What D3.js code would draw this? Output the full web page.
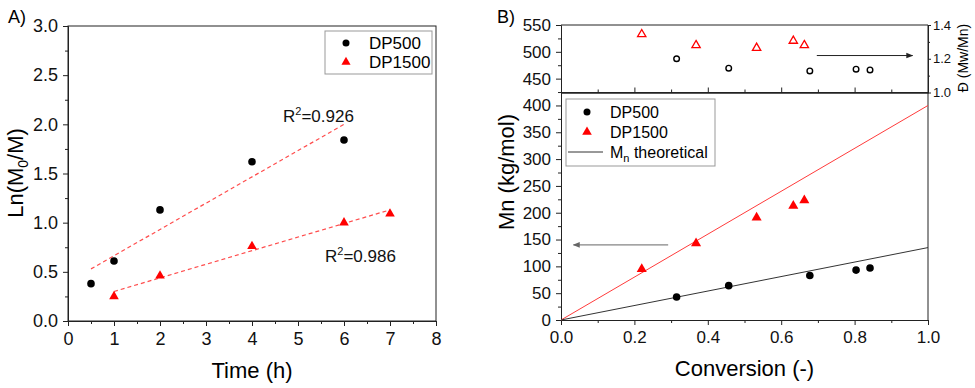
<!DOCTYPE html>
<html>
<head>
<meta charset="utf-8">
<script src="https://cdn.jsdelivr.net/npm/d3@7"></script>
<style>
  body { margin: 0; background: #fff; }
  svg, svg text { font-family: "Liberation Sans", Arial, sans-serif; }
  .axis path, .axis line { stroke: #222; }
  .axis text { fill: #111; }
</style>
</head>
<body>
<svg id="chart" width="975" height="388"></svg>
<script>
// ---- panel A: kinetics ----
var timeDP500 = [0.5, 1, 2, 4, 6];
var lnDP500 = [0.38, 0.61, 1.13, 1.62, 1.84];
var timeDP1500 = [1, 2, 4, 6, 7];
var lnDP1500 = [0.25, 0.46, 0.76, 1.00, 1.09];
var fitDP500 = [[0.5, 0.53], [6, 2.0]];
var fitDP1500 = [[1, 0.30], [7, 1.13]];
var r2Values = ["0.926", "0.986"];
var timeTicks = [0, 1, 2, 3, 4, 5, 6, 7, 8];
var lnTicks = [0, 0.5, 1.0, 1.5, 2.0, 2.5, 3.0];

// ---- panel B: Mn and dispersity vs conversion ----
var convDP500 = [0.315, 0.457, 0.678, 0.804, 0.842];
var mnDP500 = [43, 64, 83, 93, 97];
var dispDP500 = [1.20, 1.144, 1.128, 1.138, 1.134];
var convDP1500 = [0.22, 0.368, 0.533, 0.633, 0.663];
var mnDP1500 = [95, 143, 191, 213, 223];
var dispDP1500 = [1.345, 1.28, 1.264, 1.306, 1.28];
var theoryDP500 = [[0, 0], [1, 135]];
var theoryDP1500 = [[0, 0], [1, 400]];
var convTicks = [0, 0.2, 0.4, 0.6, 0.8, 1.0];
var mnTicks = [0, 50, 100, 150, 200, 250, 300, 350, 400, 450, 500, 550];
var dispTicks = [1.0, 1.2, 1.4];
var legendB = ["DP500", "DP1500"];

var svg = d3.select('#chart');
var red = '#ff0000';
var FONT = '"Liberation Sans", Arial, sans-serif';

function minorTicks(lo, hi, step) {
  var out = [];
  for (var v = lo; v <= hi + 1e-9; v += step) out.push(+v.toFixed(4));
  return out;
}

// add an axis group; d3 sets its own font, so put ours back
function addAxis(g, transform, axis, size) {
  var a = g.append('g').attr('class', 'axis')
    .attr('transform', transform)
    .call(axis)
    .attr('font-family', FONT);
  if (size) a.attr('font-size', size);
  return a;
}

// ================= Panel A =================
var xA = d3.scaleLinear().domain([0, 8]).range([68, 436]);
var yA = d3.scaleLinear().domain([0, 3]).range([321, 26]);
var gA = svg.append('g');

gA.append('rect')
  .attr('x', xA(0)).attr('y', yA(3))
  .attr('width', xA(8) - xA(0)).attr('height', yA(0) - yA(3))
  .attr('fill', 'none').attr('stroke', '#222');

addAxis(gA, 'translate(0,' + yA(0) + ')',
  d3.axisBottom(xA).tickValues(minorTicks(0.5, 7.5, 1)).tickSize(3).tickFormat('').tickSizeOuter(0));
addAxis(gA, 'translate(0,' + yA(0) + ')',
  d3.axisBottom(xA).tickValues(timeTicks).tickSize(5).tickPadding(6).tickSizeOuter(0), 18);

addAxis(gA, 'translate(' + xA(0) + ',0)',
  d3.axisLeft(yA).tickValues(minorTicks(0.25, 2.75, 0.5)).tickSize(3).tickFormat('').tickSizeOuter(0));
addAxis(gA, 'translate(' + xA(0) + ',0)',
  d3.axisLeft(yA).tickValues(lnTicks).tickFormat(d3.format('.1f')).tickSize(5).tickPadding(5).tickSizeOuter(0), 18);

var lineA = d3.line().x(d => xA(d[0])).y(d => yA(d[1]));
[fitDP500, fitDP1500].forEach(function (f) {
  gA.append('path').datum(f).attr('d', lineA)
    .attr('fill', 'none').attr('stroke', '#ff4d4d')
    .attr('stroke-width', 1.2).attr('stroke-dasharray', '4,3');
});

gA.selectAll('.pA500').data(timeDP500).enter().append('circle')
  .attr('cx', (d) => xA(d)).attr('cy', (d, i) => yA(lnDP500[i]))
  .attr('r', 3.8).attr('fill', '#000');
gA.selectAll('.pA1500').data(timeDP1500).enter().append('path')
  .attr('d', d3.symbol(d3.symbolTriangle, 40))
  .attr('transform', (d, i) => 'translate(' + xA(d) + ',' + yA(lnDP1500[i]) + ')')
  .attr('fill', red);

// R² labels
function r2Label(g, x, y, val) {
  var t = g.append('text').attr('x', x).attr('y', y).style('font-size', '17px').attr('fill', '#111');
  t.append('tspan').text('R');
  t.append('tspan').attr('dy', -7).style('font-size', '11px').text('2');
  t.append('tspan').attr('dy', 7).text('=' + val);
}
r2Label(gA, 283, 122, r2Values[0]);
r2Label(gA, 325, 262, r2Values[1]);

// legend A
var legA = gA.append('g');
legA.append('rect').attr('x', 325).attr('y', 31).attr('width', 107).attr('height', 43)
  .attr('fill', '#fff').attr('stroke', '#999');
legA.append('circle').attr('cx', 346).attr('cy', 43).attr('r', 3.5).attr('fill', '#000');
legA.append('path').attr('d', d3.symbol(d3.symbolTriangle, 36))
  .attr('transform', 'translate(346,62)').attr('fill', red);
legA.append('text').attr('x', 369).attr('y', 49).style('font-size', '17px').text('DP500');
legA.append('text').attr('x', 369).attr('y', 68).style('font-size', '17px').text('DP1500');

// titles A
gA.append('text').attr('x', 252).attr('y', 378).attr('text-anchor', 'middle')
  .style('font-size', '22px').text('Time (h)');
var tA = gA.append('text').attr('transform', 'translate(23,173) rotate(-90)')
  .attr('text-anchor', 'middle').style('font-size', '22px');
tA.append('tspan').text('Ln(M');
tA.append('tspan').attr('dy', 5).style('font-size', '14px').text('0');
tA.append('tspan').attr('dy', -5).text('/M)');
gA.append('text').attr('x', 8).attr('y', 23).style('font-size', '18px').text('A)');

// ================= Panel B =================
var xB = d3.scaleLinear().domain([0, 1]).range([561, 928]);
var yB = d3.scaleLinear().domain([0, 550]).range([320, 25]);
var yD = d3.scaleLinear().domain([1.0, 1.4]).range([92.5, 25]);
var gB = svg.append('g');

// frame: top, right, separator
gB.append('line').attr('x1', xB(0)).attr('x2', xB(1)).attr('y1', yB(550)).attr('y2', yB(550)).attr('stroke', '#222');
gB.append('line').attr('x1', xB(1)).attr('x2', xB(1)).attr('y1', yB(550)).attr('y2', yB(0)).attr('stroke', '#222');
gB.append('line').attr('x1', xB(0)).attr('x2', xB(1)).attr('y1', yD(1.0)).attr('y2', yD(1.0)).attr('stroke', '#222');

// separator ticks pointing up
addAxis(gB, 'translate(0,' + yD(1.0) + ')',
  d3.axisTop(xB).tickValues(minorTicks(0.1, 0.9, 0.2)).tickSize(3).tickFormat('').tickSizeOuter(0));
addAxis(gB, 'translate(0,' + yD(1.0) + ')',
  d3.axisTop(xB).tickValues([0.2, 0.4, 0.6, 0.8]).tickSize(5).tickFormat('').tickSizeOuter(0));

// bottom axis
addAxis(gB, 'translate(0,' + yB(0) + ')',
  d3.axisBottom(xB).tickValues(minorTicks(0.1, 0.9, 0.2)).tickSize(3).tickFormat('').tickSizeOuter(0));
addAxis(gB, 'translate(0,' + yB(0) + ')',
  d3.axisBottom(xB).tickValues(convTicks).tickFormat(d3.format('.1f')).tickSize(5).tickPadding(6).tickSizeOuter(0), 17);

// left axis
addAxis(gB, 'translate(' + xB(0) + ',0)',
  d3.axisLeft(yB).tickValues(minorTicks(25, 525, 50)).tickSize(3).tickFormat('').tickSizeOuter(0));
addAxis(gB, 'translate(' + xB(0) + ',0)',
  d3.axisLeft(yB).tickValues(mnTicks).tickSize(5).tickPadding(5).tickSizeOuter(0), 17);

// right axis (dispersity)
addAxis(gB, 'translate(' + xB(1) + ',0)',
  d3.axisRight(yD).tickValues([1.1, 1.3]).tickSize(2).tickFormat('').tickSizeOuter(0));
addAxis(gB, 'translate(' + xB(1) + ',0)',
  d3.axisRight(yD).tickValues(dispTicks).tickFormat(d3.format('.1f')).tickSize(3).tickPadding(2).tickSizeOuter(0), 13);

// theory lines
var lineB = d3.line().x(d => xB(d[0])).y(d => yB(d[1]));
gB.append('path').datum(theoryDP1500).attr('d', lineB)
  .attr('fill', 'none').attr('stroke', '#ff3b3b').attr('stroke-width', 1);
gB.append('path').datum(theoryDP500).attr('d', lineB)
  .attr('fill', 'none').attr('stroke', '#333').attr('stroke-width', 1);

// Mn points
gB.selectAll('.mn500').data(convDP500).enter().append('circle')
  .attr('cx', (d) => xB(d)).attr('cy', (d, i) => yB(mnDP500[i]))
  .attr('r', 3.8).attr('fill', '#000');
gB.selectAll('.mn1500').data(convDP1500).enter().append('path')
  .attr('d', d3.symbol(d3.symbolTriangle, 44))
  .attr('transform', (d, i) => 'translate(' + xB(d) + ',' + yB(mnDP1500[i]) + ')')
  .attr('fill', red);

// dispersity points (open)
gB.selectAll('.d500').data(convDP500).enter().append('circle')
  .attr('cx', (d) => xB(d)).attr('cy', (d, i) => yD(dispDP500[i]))
  .attr('r', 2.8).attr('fill', 'none').attr('stroke', '#000').attr('stroke-width', 1.4);
gB.selectAll('.d1500').data(convDP1500).enter().append('path')
  .attr('d', d3.symbol(d3.symbolTriangle, 30))
  .attr('transform', (d, i) => 'translate(' + xB(d) + ',' + yD(dispDP1500[i]) + ')')
  .attr('fill', 'none').attr('stroke', red).attr('stroke-width', 1.3);

// arrows
var defs = svg.append('defs');
[['headBlack', '#222'], ['headGrey', '#666']].forEach(function (m) {
  defs.append('marker').attr('id', m[0]).attr('viewBox', '0 0 10 10')
    .attr('refX', 9).attr('refY', 5).attr('markerWidth', 7).attr('markerHeight', 7)
    .attr('orient', 'auto').attr('markerUnits', 'userSpaceOnUse')
    .append('path').attr('d', 'M0,1 L10,5 L0,9 Z').attr('fill', m[1]);
});
gB.append('line').attr('x1', xB(0.697)).attr('x2', xB(0.958))
  .attr('y1', yD(1.219)).attr('y2', yD(1.219))
  .attr('stroke', '#222').attr('marker-end', 'url(#headBlack)');
gB.append('line').attr('x1', xB(0.292)).attr('x2', xB(0.034))
  .attr('y1', yB(140)).attr('y2', yB(140))
  .attr('stroke', '#666').attr('marker-end', 'url(#headGrey)');

// legend B
var legB = gB.append('g');
legB.append('rect').attr('x', 566).attr('y', 99).attr('width', 149).attr('height', 67)
  .attr('fill', '#fff').attr('stroke', '#999');
legB.append('circle').attr('cx', 587).attr('cy', 112).attr('r', 3.5).attr('fill', '#000');
legB.append('path').attr('d', d3.symbol(d3.symbolTriangle, 40))
  .attr('transform', 'translate(587,132)').attr('fill', red);
legB.append('line').attr('x1', 568).attr('x2', 603).attr('y1', 152).attr('y2', 152).attr('stroke', '#333');
legB.selectAll('.lt').data(legendB).enter().append('text')
  .attr('x', 610).attr('y', (d, i) => 118 + i * 20).style('font-size', '16px').text(d => d);
var tl = legB.append('text').attr('x', 610).attr('y', 158).style('font-size', '16px');
tl.append('tspan').text('M');
tl.append('tspan').attr('dy', 4).style('font-size', '11px').text('n');
tl.append('tspan').attr('dy', -4).text(' theoretical');

// titles B
gB.append('text').attr('x', xB(0.5)).attr('y', 376).attr('text-anchor', 'middle')
  .style('font-size', '22px').text('Conversion (-)');
gB.append('text').attr('transform', 'translate(514,172) rotate(-90)')
  .attr('text-anchor', 'middle').style('font-size', '22px').text('Mn (kg/mol)');
gB.append('text').attr('transform', 'translate(968,58) rotate(-90)')
  .attr('text-anchor', 'middle').style('font-size', '14px').text('Đ (Mw/Mn)');
gB.append('text').attr('x', 497).attr('y', 23).style('font-size', '18px').text('B)');
</script>
</body>
</html>
